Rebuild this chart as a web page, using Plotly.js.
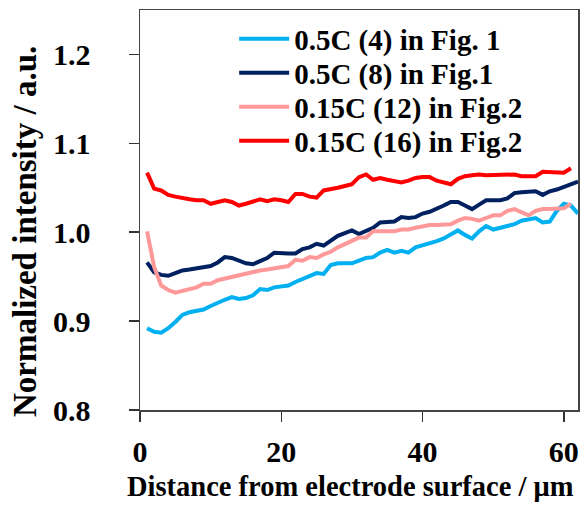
<!DOCTYPE html>
<html>
<head>
<meta charset="utf-8">
<script src="https://cdn.plot.ly/plotly-3.0.1.min.js"></script>
<style>
html,body{margin:0;padding:0;background:#fff;}
#chart{width:583px;height:506px;}
</style>
</head>
<body>
<div id="chart"></div>
<script>
// Distance from electrode surface (µm)
var distance = [];
for (var i = 1; i <= 62; i++) distance.push(i);

var seriesNames = ["0.5C (4) in Fig. 1", "0.5C (8) in Fig.1", "0.15C (12) in Fig.2", "0.15C (16) in Fig.2"];

var c05_4 = [0.892,0.888,0.887,0.892,0.899,0.907,0.910,0.911,0.913,0.917,0.921,0.924,0.927,0.925,0.926,0.929,0.936,0.935,0.938,0.939,
  0.940,0.944,0.947,0.950,0.954,0.953,0.963,0.965,0.965,0.965,0.968,0.971,0.972,0.977,0.980,0.977,0.979,0.977,0.983,0.985,
  0.988,0.990,0.993,0.997,1.002,0.997,0.993,1.001,1.007,1.003,1.005,1.007,1.009,1.013,1.015,1.016,1.011,1.012,1.024,1.032,
  1.030,1.021];

var c05_8 = [0.966,0.955,0.952,0.951,0.954,0.957,0.958,0.959,0.960,0.962,0.966,0.972,0.971,0.968,0.965,0.964,0.968,0.971,0.977,0.976,
  0.976,0.976,0.981,0.983,0.987,0.985,0.990,0.996,0.999,1.002,0.998,1.001,1.005,1.011,1.012,1.012,1.017,1.016,1.017,1.021,
  1.023,1.026,1.030,1.034,1.034,1.030,1.026,1.031,1.036,1.036,1.036,1.038,1.044,1.045,1.046,1.046,1.042,1.046,1.048,1.051,
  1.054,1.057];

var c015_12 = [1.001,0.961,0.940,0.935,0.932,0.934,0.937,0.938,0.942,0.942,0.946,0.948,0.949,0.952,0.954,0.956,0.957,0.958,0.959,0.961,
  0.962,0.969,0.968,0.972,0.971,0.975,0.978,0.983,0.987,0.991,0.994,0.994,1.001,1.001,1.001,1.001,1.003,1.003,1.005,1.007,
  1.008,1.008,1.009,1.009,1.013,1.016,1.015,1.013,1.016,1.019,1.019,1.024,1.026,1.023,1.019,1.024,1.026,1.026,1.026,1.027,
  1.032];

var c015_16 = [1.067,1.049,1.047,1.042,1.040,1.038,1.037,1.036,1.036,1.032,1.034,1.036,1.034,1.030,1.032,1.035,1.037,1.035,1.037,1.036,
  1.034,1.043,1.043,1.040,1.039,1.047,1.048,1.050,1.052,1.054,1.062,1.065,1.059,1.061,1.059,1.057,1.056,1.058,1.061,1.062,
  1.062,1.058,1.056,1.054,1.060,1.063,1.064,1.065,1.064,1.064,1.064,1.065,1.065,1.063,1.063,1.063,1.068,1.068,1.068,1.067,
  1.072];

var xTickVals = [0, 20, 40, 60];
var yTickVals = [0.8, 0.9, 1.0, 1.1, 1.2];
var yTickText = ["0.8", "0.9", "1.0", "1.1", "1.2"];
var xTitle = "Distance from electrode surface / μm";
var yTitle = "Normalized intensity / a.u.";

var colors = ["#00B0F0", "#002060", "#FF9999", "#FF0000"];
var allY = [c05_4, c05_8, c015_12, c015_16];
var legendIds = ["legend", "legend2", "legend3", "legend4"];
var legendRowY = [0.9275, 0.8425, 0.7575, 0.6725];

var traces = allY.map(function (ys, k) {
  return {
    x: distance.slice(0, ys.length),
    y: ys,
    type: "scatter",
    mode: "lines",
    name: seriesNames[k],
    legend: legendIds[k],
    line: {color: colors[k], width: 4}
  };
});

var font = "Liberation Serif";
var layout = {
  width: 583, height: 506,
  margin: {l: 140, r: 5, t: 10, b: 96},
  paper_bgcolor: "#fff", plot_bgcolor: "#fff",
  font: {family: font, color: "#000"},
  showlegend: true,
  xaxis: {
    range: [0, 62], tickvals: xTickVals, ticktext: xTickVals.map(String),
    ticks: "outside", ticklen: 10, tickwidth: 1.5, tickcolor: "#333",
    showline: true, linecolor: "#444", linewidth: 1.5, mirror: true,
    showgrid: false, zeroline: false,
    tickfont: {family: font, size: 30, weight: "bold", color: "#000"},
    ticklabelstandoff: 4
  },
  yaxis: {
    range: [0.8, 1.25], tickvals: yTickVals, ticktext: yTickText,
    ticks: "outside", ticklen: 10, tickwidth: 1.5, tickcolor: "#333",
    showline: true, linecolor: "#444", linewidth: 1.5, mirror: true,
    showgrid: false, zeroline: false,
    tickfont: {family: font, size: 30, weight: "bold", color: "#000"},
    ticklabelstandoff: 32
  },
  annotations: [{
    text: yTitle, textangle: -90, showarrow: false,
    xref: "paper", yref: "paper", x: -0.2626, y: 0.4475,
    xanchor: "center", yanchor: "middle",
    font: {family: font, size: 33, weight: "bold", color: "#000"}
  }, {
    text: xTitle, showarrow: false,
    xref: "paper", yref: "paper", x: 0.4817, y: -0.19,
    xanchor: "center", yanchor: "middle",
    font: {family: font, size: 28.5, weight: "bold", color: "#000"}
  }]
};

legendIds.forEach(function (id, k) {
  layout[id] = {
    x: 0.215, y: legendRowY[k], xanchor: "left", yanchor: "middle",
    bgcolor: "rgba(0,0,0,0)", borderwidth: 0,
    font: {family: font, size: 29, weight: "bold", color: "#000"},
    itemwidth: 50
  };
});

Plotly.newPlot("chart", traces, layout, {staticPlot: true, displayModeBar: false});
</script>
</body>
</html>
